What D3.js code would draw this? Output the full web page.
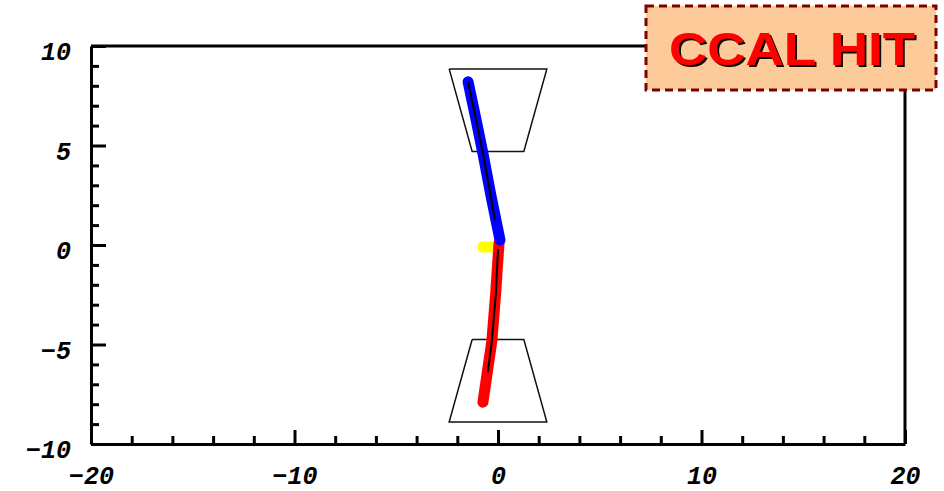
<!DOCTYPE html>
<html>
<head>
<meta charset="utf-8">
<script src="https://cdn.jsdelivr.net/npm/d3@7"></script>
<style>
	body { margin: 0; background: #fff; }
	svg { display: block; }
	.axis text { font-family: "Liberation Mono", "DejaVu Sans Mono", monospace; font-weight: bold; font-style: italic; font-size: 25px; fill: #000; }
	.axis path, .axis line { stroke: #000; stroke-width: 3px; }
</style>
</head>
<body>
<svg id="chart" width="944" height="491"></svg>
<script>
// tick values
let xMajor = [-20, -10, 0, 10, 20];
let xMinor = [-18, -16, -14, -12, -8, -6, -4, -2, 2, 4, 6, 8, 12, 14, 16, 18];
let yMajor = [-10, -5, 0, 5, 10];
let yMinor = [-9, -8, -7, -6, -4, -3, -2, -1, 1, 2, 3, 4, 6, 7, 8, 9];

// detector outlines (trapezoids)
let upperDetX = [-2.4, 2.4, 1.27, -1.27, -2.4];
let upperDetY = [8.85, 8.85, 4.7, 4.7, 8.85];
let lowerDetX = [-1.27, 1.27, 2.4, -2.4, -1.27];
let lowerDetY = [-4.75, -4.75, -8.9, -8.9, -4.75];

// tracks
let blueX = [-1.47, -1.12, -0.74, -0.35, 0.1];
let blueY = [8.2, 6.5, 4.6, 2.5, 0.25];
let blueFitX = [-1.47, -1.1, -0.72, -0.35, -0.15];
let blueFitY = [8.2, 6.4, 4.5, 2.4, 1.25];
let redX = [0.05, -0.12, -0.3, -0.74];
let redY = [0.1, -2.5, -4.8, -7.9];
let redFitX = [0.0, -0.1, -0.3, -0.5];
let redFitY = [-0.2, -2.4, -4.8, -6.4];
let vertexX = [-0.75, -0.35];
let vertexY = [-0.1, -0.1];

let svg = d3.select('#chart');
svg.append('rect').attr('width', 944).attr('height', 491).attr('fill', '#fff');

let defs = svg.append('defs');
let shadow = defs.append('filter').attr('id', 'shadow')
	.attr('x', '-10%').attr('y', '-10%').attr('width', '120%').attr('height', '130%');
shadow.append('feFlood').attr('flood-color', '#000').attr('result', 'black');
shadow.append('feComposite').attr('in', 'black').attr('in2', 'SourceAlpha').attr('operator', 'in').attr('result', 'mask');
shadow.append('feOffset').attr('in', 'mask').attr('dx', 2).attr('dy', 2).attr('result', 'off');
let merge = shadow.append('feMerge');
merge.append('feMergeNode').attr('in', 'off');
merge.append('feMergeNode').attr('in', 'SourceGraphic');

let x = d3.scaleLinear().domain([-20, 20]).range([91, 905]);
let y = d3.scaleLinear().domain([-10, 10]).range([444, 46]);

// frame (top and right)
svg.append('path')
	.attr('d', 'M' + x(-20) + ',' + y(10) + 'H' + x(20) + 'V' + y(-10))
	.attr('fill', 'none')
	.attr('stroke', '#000')
	.attr('stroke-width', 3);

// minor ticks
svg.append('g').attr('class', 'axis')
	.attr('transform', 'translate(0,' + y(-10) + ')')
	.call(d3.axisBottom(x).tickValues(xMinor).tickSize(-8).tickFormat(''))
	.select('.domain').remove();
svg.append('g').attr('class', 'axis')
	.attr('transform', 'translate(' + x(-20) + ',0)')
	.call(d3.axisLeft(y).tickValues(yMinor).tickSize(-8).tickFormat(''))
	.select('.domain').remove();

// major ticks + labels
let fmt = d => d < 0 ? '\u2212' + Math.abs(d) : '' + d;
svg.append('g').attr('class', 'axis')
	.attr('transform', 'translate(0,' + y(-10) + ')')
	.call(d3.axisBottom(x).tickValues(xMajor).tickSizeInner(-14).tickSizeOuter(0).tickPadding(22).tickFormat(fmt));
svg.append('g').attr('class', 'axis')
	.attr('transform', 'translate(' + x(-20) + ',0)')
	.call(d3.axisLeft(y).tickValues(yMajor).tickSizeInner(-15).tickSizeOuter(0).tickPadding(20).tickFormat(fmt))
	.selectAll('text').attr('dy', '0.55em');

let line = d3.line().x(d => x(d[0])).y(d => y(d[1]));
let zip = (a, b) => a.map((v, i) => [v, b[i]]);

// detectors
[[upperDetX, upperDetY], [lowerDetX, lowerDetY]].forEach(function(p) {
	svg.append('path')
		.attr('d', line(zip(p[0], p[1])))
		.attr('fill', 'none')
		.attr('stroke', '#111')
		.attr('stroke-width', 1.5);
});

// tracks
svg.append('path')
	.attr('d', line(zip(vertexX, vertexY)))
	.attr('fill', 'none').attr('stroke', '#ffff00').attr('stroke-width', 11).attr('stroke-linecap', 'round');
svg.append('path')
	.attr('d', line(zip(redX, redY)))
	.attr('fill', 'none').attr('stroke', '#ff0000').attr('stroke-width', 11).attr('stroke-linecap', 'round');
svg.append('path')
	.attr('d', line(zip(blueX, blueY)))
	.attr('fill', 'none').attr('stroke', '#0000ff').attr('stroke-width', 11).attr('stroke-linecap', 'round');
svg.append('path')
	.attr('d', line(zip(blueFitX, blueFitY)))
	.attr('fill', 'none').attr('stroke', '#000').attr('stroke-width', 2);
svg.append('path')
	.attr('d', line(zip(redFitX, redFitY)))
	.attr('fill', 'none').attr('stroke', '#000').attr('stroke-width', 2);

// label box
let box = svg.append('g');
box.append('rect')
	.attr('x', 646).attr('y', 6).attr('width', 290).attr('height', 84)
	.attr('fill', '#fdcb9a')
	.attr('stroke', '#800000')
	.attr('stroke-width', 3)
	.attr('stroke-dasharray', '8,5');
box.append('text')
	.attr('x', 669).attr('y', 65)
	.attr('textLength', 246)
	.attr('lengthAdjust', 'spacingAndGlyphs')
	.attr('filter', 'url(#shadow)')
	.style('font-family', '"Liberation Sans", Arial, sans-serif')
	.style('font-weight', 'bold')
	.style('font-size', '47px')
	.attr('fill', '#ff0000')
	.text('CCAL HIT');
</script>
</body>
</html>
